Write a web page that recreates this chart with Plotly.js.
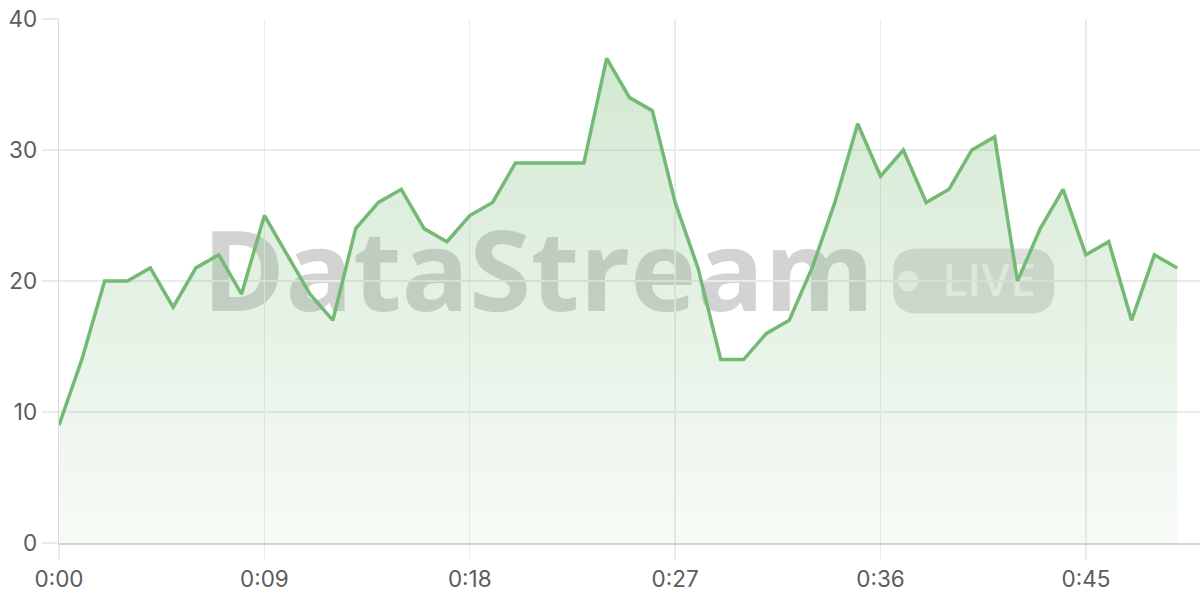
<!DOCTYPE html>
<html>
<head>
<meta charset="utf-8">
<script src="https://cdn.plot.ly/plotly-3.0.1.min.js"></script>
<style>
  html, body { margin: 0; padding: 0; background: #ffffff; }
  #chart { width: 1200px; height: 600px; }
</style>
</head>
<body>
<div id="chart"></div>
<script>
// Seconds elapsed
const seconds = [0,1,2,3,4,5,6,7,8,9,10,11,12,13,14,15,16,17,18,19,20,21,22,23,24,25,26,27,28,29,30,31,32,33,34,35,36,37,38,39,40,41,42,43,44,45,46,47,48,49];
// Stream values
const values = [9,14,20,20,21,18,21,22,19,25,22,19,17,24,26,27,24,23,25,26,29,29,29,29,37,34,33,26,21,14,14,16,17,21,26,32,28,30,26,27,30,31,20,24,27,22,23,17,22,21];
// X tick positions and labels
const xTickVals = [0, 9, 18, 27, 36, 45];
const xTickLabels = ['0:00', '0:09', '0:18', '0:27', '0:36', '0:45'];
// Y ticks
const yTickVals = [0, 10, 20, 30, 40];
const watermarkText = 'DataStream';
const badgeText = 'LIVE';

const lineColor = '#74b974';

const trace = {
  x: seconds,
  y: values,
  type: 'scatter',
  mode: 'lines',
  line: { color: lineColor, width: 3.5, shape: 'linear' },
  fill: 'tozeroy',
  fillgradient: {
    type: 'vertical',
    colorscale: [[0, 'rgba(116,185,116,0.06)'], [1, 'rgba(116,185,116,0.32)']]
  },
  hoverinfo: 'skip'
};

const tickFont = { family: 'Inter, "Open Sans", sans-serif', size: 22.5, color: '#5c5c5c' };

// rounded-rectangle path in pixels centred on its anchor
function roundedRect(w, h, r) {
  const x0 = -w / 2, x1 = w / 2, y0 = -h / 2, y1 = h / 2;
  return `M ${x0 + r},${y0} L ${x1 - r},${y0} Q ${x1},${y0} ${x1},${y0 + r} ` +
         `L ${x1},${y1 - r} Q ${x1},${y1} ${x1 - r},${y1} ` +
         `L ${x0 + r},${y1} Q ${x0},${y1} ${x0},${y1 - r} ` +
         `L ${x0},${y0 + r} Q ${x0},${y0} ${x0 + r},${y0} Z`;
}

const layout = {
  width: 1200,
  height: 600,
  margin: { l: 59, r: 0, t: 19, b: 57 },
  paper_bgcolor: '#ffffff',
  plot_bgcolor: 'rgba(0,0,0,0)',
  showlegend: false,
  xaxis: {
    range: [0, 50],
    tickmode: 'array',
    tickvals: xTickVals,
    ticktext: xTickLabels,
    showgrid: true,
    gridcolor: '#ebebeb',
    gridwidth: 1.3,
    zeroline: false,
    showline: true,
    linecolor: '#d2d2d2',
    linewidth: 1.6,
    ticks: 'outside',
    ticklen: 15,
    tickcolor: '#ebebeb',
    tickwidth: 1.3,
    tickfont: tickFont,
    fixedrange: true
  },
  yaxis: {
    range: [0, 40],
    tickmode: 'array',
    tickvals: yTickVals,
    showgrid: true,
    gridcolor: '#ebebeb',
    gridwidth: 1.3,
    zeroline: false,
    showline: true,
    linecolor: '#d9d9d9',
    linewidth: 1.3,
    ticks: 'outside',
    ticklen: 16,
    tickcolor: '#ebebeb',
    tickwidth: 1.3,
    tickfont: tickFont,
    fixedrange: true
  },
  shapes: [
    {
      type: 'rect', layer: 'below',
      xref: 'x domain', yref: 'y domain',
      x0: 0.12, x1: 0.72, y0: 0.39, y1: 0.63,
      fillcolor: 'rgba(0,0,0,0)', line: { width: 0 },
      label: {
        text: '<b>' + watermarkText + '</b>',
        textposition: 'middle center',
        font: { family: '"Open Sans", "Noto Sans", sans-serif', size: 112, color: 'rgba(110,110,110,0.3)' }
      }
    },
    {
      type: 'path', layer: 'below',
      xref: 'x domain', yref: 'y domain',
      xsizemode: 'pixel', ysizemode: 'pixel',
      xanchor: 0.8016, yanchor: 0.5,
      path: roundedRect(161, 65, 24),
      fillcolor: 'rgba(110,110,110,0.22)', line: { width: 0 }
    },
    {
      type: 'circle', layer: 'below',
      xref: 'x domain', yref: 'y domain',
      xsizemode: 'pixel', ysizemode: 'pixel',
      xanchor: 0.7441, yanchor: 0.5,
      x0: -10.5, x1: 10.5, y0: -10.5, y1: 10.5,
      fillcolor: 'rgba(255,255,255,0.7)', line: { width: 0 }
    },
    {
      type: 'rect', layer: 'below',
      xref: 'x domain', yref: 'y domain',
      x0: 0.77, x1: 0.86, y0: 0.44, y1: 0.56,
      fillcolor: 'rgba(0,0,0,0)', line: { width: 0 },
      label: {
        text: badgeText,
        textposition: 'middle center',
        font: { family: '"Open Sans", "Noto Sans", sans-serif', size: 46, weight: 600, color: 'rgba(255,255,255,0.7)' }
      }
    }
  ]
};

Plotly.newPlot('chart', [trace], layout, { staticPlot: true, displayModeBar: false });
</script>
</body>
</html>
